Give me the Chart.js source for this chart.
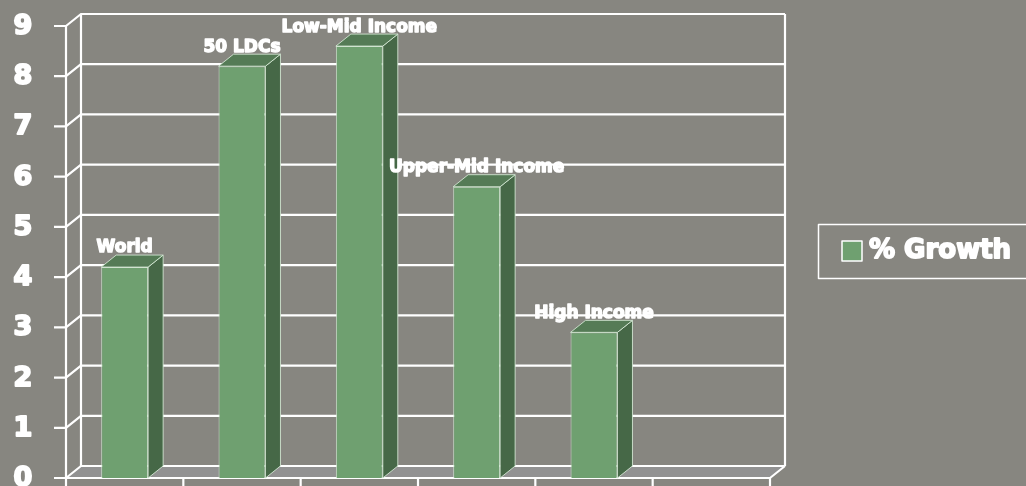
<!DOCTYPE html>
<html>
<head>
<meta charset="utf-8">
<script src="https://cdn.jsdelivr.net/npm/chart.js@4"></script>
<style>
  html, body { margin: 0; padding: 0; background: #878680; }
  #wrap { width: 1026px; height: 486px; position: relative; }
</style>
</head>
<body>
<div id="wrap"><canvas id="growthChart"></canvas></div>
<script>
// Chart data
const categories = ['World', '50 LDCs', 'Low-Mid Income', 'Upper-Mid Income', 'High Income', ''];
const growth = [4.2, 8.2, 8.6, 5.8, 2.9, null];
const yTicks = [0, 1, 2, 3, 4, 5, 6, 7, 8, 9];
const seriesName = '% Growth';

// 3D look
const DX = 15, DY = -12;
const GRID = '#ffffff';
const FLOOR = '#929292';
const BAR_FRONT = '#6fa070';
const BAR_SIDE = '#466847';
const BAR_TOP = '#557b56';
const BAR_EDGE = 'rgba(215,235,215,0.85)';

function line(ctx, pts) {
    ctx.beginPath();
    ctx.moveTo(pts[0][0], pts[0][1]);
    for (let i = 1; i < pts.length; i++) ctx.lineTo(pts[i][0], pts[i][1]);
    ctx.stroke();
}

function poly(ctx, pts, fill, stroke) {
    ctx.beginPath();
    ctx.moveTo(pts[0][0], pts[0][1]);
    for (let i = 1; i < pts.length; i++) ctx.lineTo(pts[i][0], pts[i][1]);
    ctx.closePath();
    ctx.fillStyle = fill;
    ctx.fill();
    if (stroke) {
        ctx.strokeStyle = stroke;
        ctx.lineWidth = 1;
        ctx.stroke();
    }
}

// heavy white text (the original uses a black-weight face)
function heavyText(ctx, text, x, y, weight) {
    ctx.fillStyle = '#ffffff';
    ctx.strokeStyle = '#ffffff';
    ctx.lineWidth = weight;
    ctx.lineJoin = 'round';
    ctx.strokeText(text, x, y);
    ctx.fillText(text, x, y);
}

// walls, grid, axes and tick labels
const wallsPlugin = {
    id: 'walls',
    beforeDatasetsDraw(chart) {
        const { ctx, chartArea: a, scales: { y } } = chart;
        ctx.save();
        // floor
        poly(ctx, [[a.left, a.bottom], [a.right, a.bottom], [a.right + DX, a.bottom + DY], [a.left + DX, a.bottom + DY]], FLOOR);

        ctx.strokeStyle = GRID;
        ctx.lineWidth = 2.2;
        yTicks.forEach(v => {
            const py = y.getPixelForValue(v);
            line(ctx, [[a.left - 12, py], [a.left, py], [a.left + DX, py + DY], [a.right + DX, py + DY]]);
        });
        // verticals
        line(ctx, [[a.left, a.top], [a.left, a.bottom]]);
        line(ctx, [[a.left + DX, a.top + DY], [a.left + DX, a.bottom + DY]]);
        line(ctx, [[a.right + DX, a.top + DY], [a.right + DX, a.bottom + DY]]);
        // front x axis
        line(ctx, [[a.left, a.bottom], [a.right, a.bottom], [a.right + DX, a.bottom + DY]]);
        const n = categories.length;
        for (let i = 0; i <= n; i++) {
            const px = a.left + i * (a.right - a.left) / n;
            line(ctx, [[px, a.bottom], [px, a.bottom + 12]]);
        }

        // y tick labels
        ctx.font = 'bold 27px "DejaVu Sans"';
        ctx.textAlign = 'center';
        ctx.textBaseline = 'middle';
        yTicks.forEach(v => {
            heavyText(ctx, String(v), 23, y.getPixelForValue(v) + 1, 2);
        });
        ctx.restore();
    },
    afterDatasetsDraw(chart) {
        const { ctx } = chart;
        const meta = chart.getDatasetMeta(0);
        ctx.save();
        meta.data.forEach((bar, i) => {
            if (growth[i] == null) return;
            const { x, y, base, width } = bar.getProps(['x', 'y', 'base', 'width'], true);
            const l = x - width / 2, r = x + width / 2;
            poly(ctx, [[r, y], [r + DX, y + DY], [r + DX, base + DY], [r, base]], BAR_SIDE, BAR_EDGE);
            poly(ctx, [[l, y], [r, y], [r + DX, y + DY], [l + DX, y + DY]], BAR_TOP, BAR_EDGE);

            // category label above the bar
            ctx.font = 'bold 17px "DejaVu Sans"';
            ctx.textAlign = 'center';
            ctx.textBaseline = 'middle';
            heavyText(ctx, categories[i], x, y - 19, 1.4);
        });

        // legend
        ctx.strokeStyle = GRID;
        ctx.lineWidth = 1.5;
        ctx.strokeRect(818.5, 224.5, 220, 54);
        ctx.fillStyle = BAR_FRONT;
        ctx.fillRect(842, 241, 20, 20);
        ctx.strokeRect(842, 241, 20, 20);
        ctx.font = 'bold 26px "DejaVu Sans"';
        ctx.textAlign = 'left';
        ctx.textBaseline = 'middle';
        heavyText(ctx, seriesName, 869, 251, 1.8);
        ctx.restore();
    }
};

const growthCtx = document.getElementById('growthChart').getContext('2d');
new Chart(growthCtx, {
    type: 'bar',
    data: {
        labels: categories,
        datasets: [{
            label: seriesName,
            data: growth,
            backgroundColor: BAR_FRONT,
            borderColor: BAR_EDGE,
            borderWidth: 1,
            barPercentage: 0.4,
            categoryPercentage: 1
        }]
    },
    options: {
        responsive: true,
        maintainAspectRatio: false,
        animation: false,
        layout: {
            padding: { left: 66, right: 256, top: 26, bottom: 8 }
        },
        plugins: {
            legend: { display: false },
            tooltip: { enabled: false }
        },
        scales: {
            x: { display: false },
            y: { display: false, min: 0, max: 9 }
        }
    },
    plugins: [wallsPlugin]
});
</script>
</body>
</html>
